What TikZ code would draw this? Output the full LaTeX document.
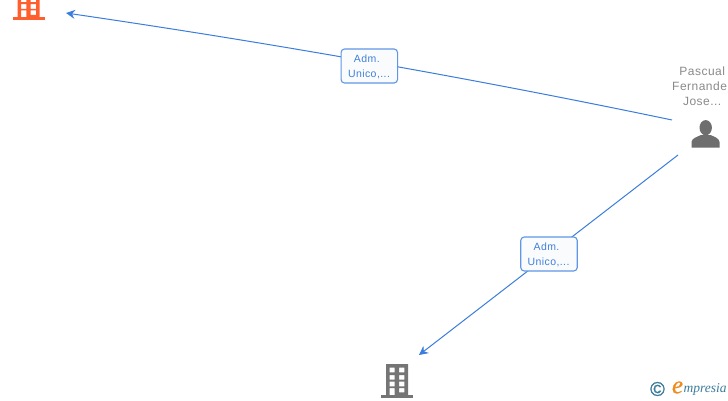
\documentclass[tikz,border=0pt]{standalone}
\usepackage{fontspec}
\setmainfont{Liberation Sans}
\newfontfamily\logofont{Liberation Serif}
\newfontfamily\spacedfont[LetterSpace=4]{Liberation Sans}
\newfontfamily\copyfont[FakeBold=1.2]{Liberation Sans}
\newfontfamily\efont[FakeBold=0.8]{Liberation Serif Italic}
\usetikzlibrary{arrows.meta}
\definecolor{linkblue}{HTML}{3B7DDD}
\definecolor{labelborder}{HTML}{5F97E6}
\definecolor{labelfill}{HTML}{FAFBFD}
\definecolor{labeltext}{HTML}{3F7FDB}
\definecolor{bldorange}{HTML}{FF5F2E}
\definecolor{bldgray}{HTML}{757575}
\definecolor{persongray}{HTML}{6E6E6E}
\definecolor{nametext}{HTML}{8A8A8A}
\definecolor{logoteal}{HTML}{3C7C9C}
\definecolor{logoorange}{HTML}{F08A1D}
\tikzset{
  link/.style={draw=linkblue,line width=1pt,-{Stealth[length=9pt,width=9pt]}},
  linklabel/.style={draw=labelborder,fill=labelfill,line width=1.1pt,rounded corners=3.5pt,minimum width=56.5pt,minimum height=34pt,inner sep=0pt},
  labeltxt/.style={text=labeltext,inner sep=0pt,font=\spacedfont\fontsize{10.5}{15}\selectfont},
  personname/.style={text=nametext,align=center,inner sep=0pt,font=\spacedfont\fontsize{12}{15}\selectfont},
  anchorbox/.style={minimum width=32pt,minimum height=34pt,inner sep=0pt}
}
\newcommand{\bldicon}[2]{%
  \begin{scope}[shift={#1}]
    \fill[#2,even odd rule] (5,-33) rectangle (27,0)
      (8.5,-3.7) rectangle (13.7,-8.3) (18,-3.7) rectangle (23.3,-8.3)
      (8.5,-11) rectangle (13.7,-15.7) (18,-11) rectangle (23.3,-15.7)
      (8.5,-17.7) rectangle (13.7,-22.3) (18,-17.7) rectangle (23.3,-22.3)
      (8.5,-24) rectangle (13.7,-31) (18,-24) rectangle (23.3,-28.3);
    \fill[#2] (0,-34) rectangle (32,-31);
  \end{scope}}
\begin{document}
\begin{tikzpicture}[x=1pt,y=1pt]
\useasboundingbox (0,0) rectangle (728,400);
\clip (0,0) rectangle (728,400);
\fill[white] (0,0) rectangle (728,400);
% building icons
\bldicon{(381,400-364)}{bldgray}
\bldicon{(12.7,400+13.5-0)}{bldorange}
\node[anchorbox] (bldB) at (397,19) {};
\node[anchorbox] (bldA) at (28.7,396.5) {};
% person icon
\fill[persongray] (705.7,272.3) ellipse (6.2pt and 7.6pt);
\fill[persongray] (691.5,252.3) -- (691.5,258) .. controls (692,262) and (697,263) .. (701,265)
  -- (710.5,265) .. controls (714.5,263) and (719,262) .. (719.5,258) -- (719.5,252.3) -- cycle;
\node[minimum width=28pt,minimum height=28pt,inner sep=0pt] (person) at (705.5,265) {};
\node[personname] (name) at (702.2,313.5) {Pascual\\\makebox[60pt][l]{Fernande}\\Jose...};
% connector ends
\coordinate (startA) at (672,280);
\coordinate (endA) at (66,387);
\coordinate (startB) at (678,245);
\coordinate (endB) at (419,45);
\draw[link] (startA) .. controls (470,322.2) and (268,357.5) .. (endA);
\draw[link] (startB) -- (endB);
\node[linklabel] (labA) at (369.3,334) {};
\node[linklabel] (labB) at (549,146) {};
\node[labeltxt] (labAa) at (366.8,341) {Adm.};
\node[labeltxt] (labAb) at (369,326) {Unico,...};
\node[labeltxt] (labBa) at (546.5,153) {Adm.};
\node[labeltxt] (labBb) at (548.5,138) {Unico,...};
% logo
\node[inner sep=0pt,text=logoteal,font=\copyfont\fontsize{20}{20}\selectfont] (copy) at (657.5,11) {©};
\node[inner sep=0pt,text=logoorange,font=\efont\fontsize{25}{25}\selectfont] (logoe) at (677.5,12.5) {e};
\node[inner sep=0pt,text=logoteal,anchor=west,font=\logofont\itshape\fontsize{13.5}{14}\selectfont] (logot) at (683.5,10.5) {mpresia};
\end{tikzpicture}
\end{document}
